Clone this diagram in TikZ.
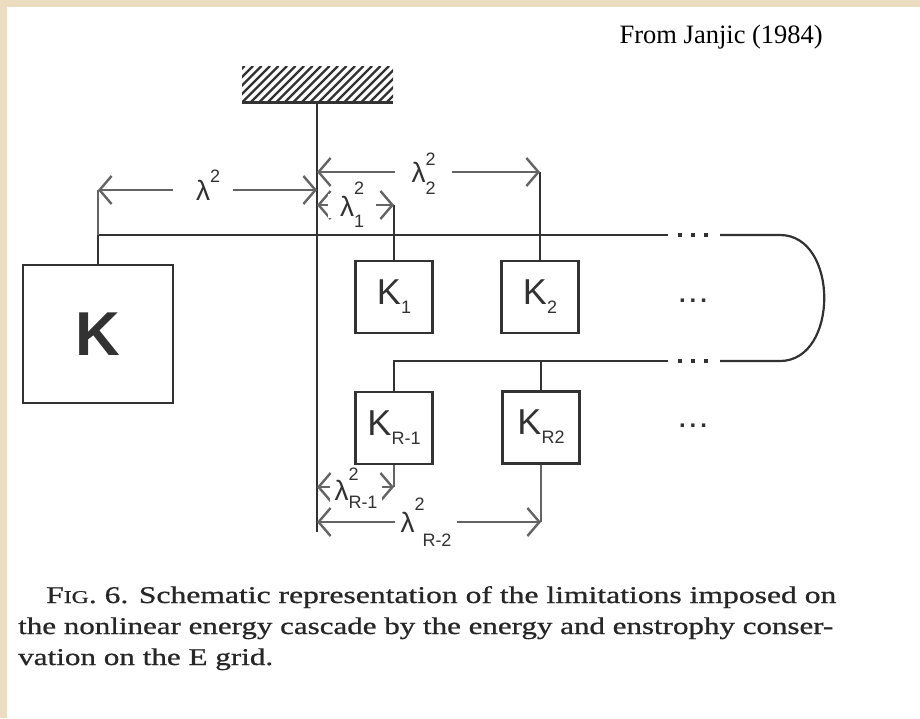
\documentclass[tikz,border=0pt]{standalone}
\usepackage{fontspec}
\setmainfont{Liberation Serif}
\newfontfamily\sansf{Liberation Sans}
\newfontfamily\capfont[FakeBold=0.7]{Liberation Serif}
\usetikzlibrary{arrows.meta}
\definecolor{paper}{RGB}{236,221,192}
\definecolor{ink}{RGB}{50,50,50}
\definecolor{inkl}{RGB}{100,100,100}
\newcommand\lamsym{{\sansf\fontsize{28}{28}\selectfont λ}}
% #1 sup, #2 sub, #3 sup raise, #4 sub lower, #5 sub shift
\newcommand\lamlab[5]{\lamsym\smash{\rlap{\raisebox{#3}{\sansf\fontsize{18}{18}\selectfont #1}}\hspace*{#5}\raisebox{-#4}{\sansf\fontsize{18}{18}\selectfont #2}}}
\newcommand\kname[1]{{\fontsize{36}{36}\selectfont K}\raisebox{-9pt}{\fontsize{18}{18}\selectfont #1}}
\tikzset{
  box/.style={draw=ink, line width=2.6pt, fill=white, minimum width=77pt, minimum height=72pt, inner sep=0pt, font=\sansf, text=ink},
  wire/.style={draw=ink, line width=2.2pt},
  extline/.style={draw=inkl, line width=1.8pt},
  dim/.style={draw=inkl, line width=1.8pt, {Straight Barb[length=12pt,width=28pt,line width=2.4pt]}-{Straight Barb[length=12pt,width=28pt,line width=2.4pt]}},
  lab/.style={fill=white, inner xsep=0pt, inner ysep=2pt, text=ink},
  capline/.style={anchor=base west, inner sep=0pt, font=\capfont\fontsize{24}{24}\selectfont, text=black!85},
  gap/.style={fill=ink},
  ell/.style={font=\sansf\bfseries\fontsize{24}{24}\selectfont, text=ink, inner sep=0pt, anchor=base},
}
\begin{document}
\begin{tikzpicture}[x=1pt,y=-1pt]
\useasboundingbox (0,0) rectangle (920,718);
\fill[paper] (0,0) rectangle (920,718);
\fill[white] (7,7) rectangle (920,718);

% ground hatch
\begin{scope}
  \clip (242,66) rectangle (393,102);
  \foreach \x in {200,208.5,...,400} \draw[ink, line width=2.2pt] (\x,102) -- ++(36,-36);
\end{scope}
\draw[ink, line width=3pt] (242,102) -- (393,102);

% coordinates
\coordinate (gnd) at (317,102);
\coordinate (mainEnd) at (317,532);
\coordinate (la) at (98,190);   \coordinate (lb) at (317,190);
\coordinate (t2L) at (317,172); \coordinate (t2R) at (540,172);
\coordinate (t1L) at (317,205); \coordinate (t1R) at (394,205);
\coordinate (r1L) at (317,487); \coordinate (r1R) at (394,487);
\coordinate (r2L) at (317,522); \coordinate (r2R) at (540,522);
\coordinate (Ktop) at (98,235);
\coordinate (topA) at (668,235); \coordinate (topB) at (720,235); \coordinate (topC) at (780,235);
\coordinate (botC) at (780,361); \coordinate (botB) at (720,361); \coordinate (botA) at (668,361);
\coordinate (botL) at (394,361); \coordinate (botR) at (540,361);

% boxes
\node[box, minimum width=150pt, minimum height=138pt, font=\sansf\bfseries\fontsize{62}{62}\selectfont] (K) at (98,334) {K};
\node[box] (K1) at (394,297) {\kname{1}};
\node[box] (K2) at (540,297) {\kname{2}};
\node[box] (KR1) at (394,428) {\kname{R-1}};
\node[box, line width=3pt] (KR2) at (541,427) {\kname{R2}};

% wires
\draw[wire] (gnd) -- (mainEnd);
\draw[wire] (K.north) -- (Ktop) -- (topA);
\draw[wire] (topB) -- (topC) .. controls (839,235) and (839,361) .. (botC) -- (botB);
\draw[wire] (botA) -- (botL) -- (KR1.north);
\draw[wire] (KR2.north |- botR) -- (KR2.north);
\draw[wire] (K1.north) -- (t1R);
\draw[wire] (K2.north) -- (t2R);
\draw[extline] (KR1.south) -- (r1R);
\draw[extline] (KR2.south) -- (KR2.south |- r2R);
\draw[extline] (Ktop) -- (la);
\foreach \x in {680,693,706} {
  \fill[gap] (\x-2,233) rectangle (\x+2,237);
  \fill[gap] (\x-2,359) rectangle (\x+2,363);
}

% dimension arrows
\draw[dim] (la) -- (lb);
\draw[dim] (t2L) -- (t2R);
\draw[dim] (t1L) -- (t1R);
\draw[dim] (r1L) -- (r1R);
\draw[dim] (r2L) -- (KR2.south |- r2R);

% labels
\node[lab, minimum width=60pt] (L0) at (203,190) {\lamlab{2}{}{18pt}{0pt}{0pt}};
\node[lab, minimum width=57pt] (L2) at (423.5,172) {\lamlab{2}{2}{17pt}{12pt}{0pt}\hspace{26pt}};
\node[lab, minimum width=48pt] (L1) at (352,206) {\lamlab{2}{1}{22pt}{11pt}{0pt}\hspace{8pt}};
\node[lab, minimum width=52pt] (LR1) at (356,490) {\lamlab{2}{R-1}{20pt}{8pt}{0pt}};
\node[lab, minimum width=62pt] (LR2) at (426,522) {\lamlab{2}{R-2}{22pt}{14pt}{8pt}};

% ellipses
\node[ell] (e1) at (693,302) {.\,.\,.};
\node[ell] (e2) at (693,427) {.\,.\,.};

% source
\node[anchor=base east, inner sep=0pt, font=\fontsize{26.5}{26.5}\selectfont] (src) at (823,43) {From Janjic (1984)};

% caption
\node[capline] (c1) at (46,603) {\resizebox{790pt}{\height}{F{\fontsize{18}{18}\selectfont IG}. 6. Schematic representation of the limitations imposed on}};
\node[capline] (c2) at (18,634) {\resizebox{815pt}{\height}{the nonlinear energy cascade by the energy and enstrophy conser-}};
\node[capline] (c3) at (18,665) {\resizebox{255pt}{\height}{vation on the E grid.}};
\end{tikzpicture}
\end{document}
